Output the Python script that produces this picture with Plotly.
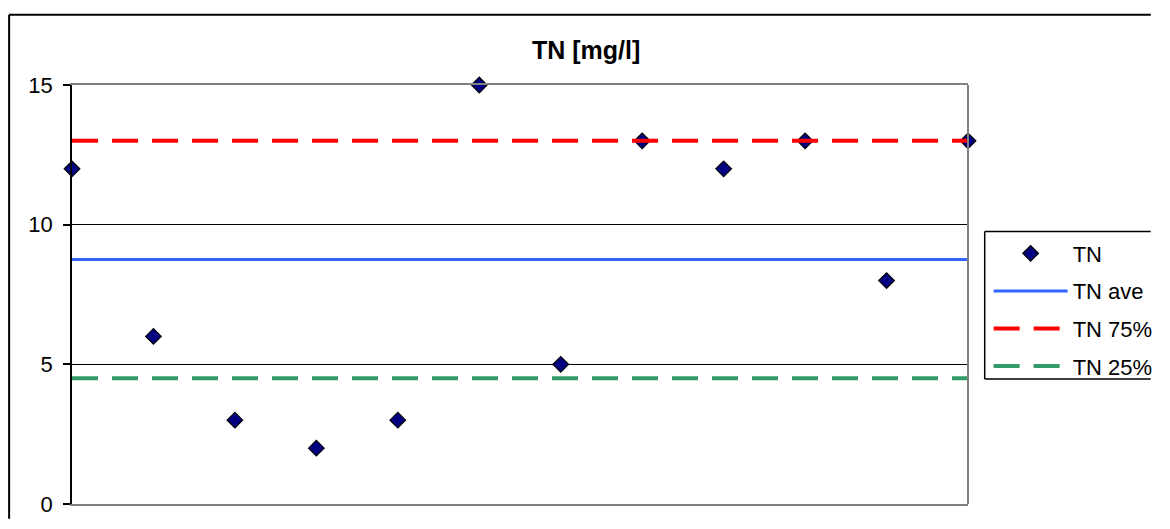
import plotly.graph_objects as go

# ---- data ----
sample_idx = [1, 2, 3, 4, 5, 6, 7, 8, 9, 10, 11, 12]
tn_values = [12, 6, 3, 2, 3, 15, 5, 13, 12, 13, 8, 13]
tn_ave = 8.75
tn_q75 = 13
tn_q25 = 4.5
y_ticks = [0, 5, 10, 15]

W, H = 1170, 529
L, R, T, B = 72, 984, 85, 514  # plot area in pixels
pw, ph = R - L, B - T


def px_x(x):
    return (x - L) / pw


def px_y(y):
    return (B - y) / ph


FONT = "Liberation Sans, Arial, sans-serif"

fig = go.Figure()
fig.add_trace(go.Scatter(
    x=sample_idx, y=tn_values, mode="markers", name="TN", legendgroup="a",
    marker=dict(symbol="diamond", size=12, color="#000080",
                line=dict(color="black", width=1.2)),
    cliponaxis=False))
fig.add_trace(go.Scatter(
    x=sample_idx, y=[tn_ave] * len(sample_idx), mode="lines", name="TN ave",
    legendgroup="b", line=dict(color="#3366FF", width=3)))
fig.add_trace(go.Scatter(
    x=sample_idx, y=[tn_q75] * len(sample_idx), mode="lines", name="TN 75%",
    legendgroup="c", line=dict(color="#FF0000", width=4, dash="26px,14px")))
fig.add_trace(go.Scatter(
    x=sample_idx, y=[tn_q25] * len(sample_idx), mode="lines", name="TN 25%",
    legendgroup="d", line=dict(color="#339966", width=4, dash="26px,14px")))


def hline(x0, x1, y, w, color="black"):
    return dict(type="line", xref="paper", yref="paper", x0=px_x(x0),
                x1=px_x(x1), y0=px_y(y), y1=px_y(y),
                line=dict(color=color, width=w))


def vline(x, y0, y1, w, color="black"):
    return dict(type="line", xref="paper", yref="paper", x0=px_x(x),
                x1=px_x(x), y0=px_y(y0), y1=px_y(y1),
                line=dict(color=color, width=w))


fig.update_layout(
    width=W, height=H,
    margin=dict(l=L, r=W - R, t=T, b=H - B),
    paper_bgcolor="white", plot_bgcolor="white",
    font=dict(family=FONT, size=21, color="black"),
    showlegend=True,
    legend=dict(x=px_x(1005), y=px_y(236), xanchor="left", yanchor="top",
                bgcolor="rgba(0,0,0,0)", borderwidth=0,
                font=dict(size=22), itemwidth=74, tracegroupgap=6,
                traceorder="grouped"),
    xaxis=dict(range=[1, 12], showticklabels=False, ticks="", showgrid=False,
               zeroline=False, showline=True, linecolor="#808080", linewidth=2,
               mirror=True),
    yaxis=dict(range=[0, 15], tickvals=y_ticks, ticks="outside", ticklen=7,
               tickcolor="black", tickwidth=1.5, showgrid=True,
               gridcolor="black", gridwidth=1.2, zeroline=False,
               showline=True, linecolor="black", linewidth=1.5,
               ticklabelstandoff=6, tickfont=dict(size=22)),
    annotations=[dict(text="<b>TN [mg/l]</b>", x=px_x(595), y=px_y(49),
                      xref="paper", yref="paper", showarrow=False,
                      font=dict(size=25, family=FONT), xanchor="center",
                      yanchor="middle")],
    shapes=[
        # plot-area right border
        dict(type="line", xref="paper", yref="paper", x0=1, x1=1, y0=0, y1=1,
             line=dict(color="#808080", width=2)),
        # outer chart frame (left + top only; right/bottom lie off-page)
        hline(8, 1170, 13, 2),
        vline(8, 13, 529, 2),
        # legend frame (right side lies off-page)
        hline(1001, 1170, 235, 1.5),
        hline(1001, 1170, 386, 1.5),
        vline(1001, 235, 386, 1.5),
    ],
)

fig.write_html(
    "out.html",
    post_script="document.body.style.margin='0';document.body.style.overflow='hidden';",
)
